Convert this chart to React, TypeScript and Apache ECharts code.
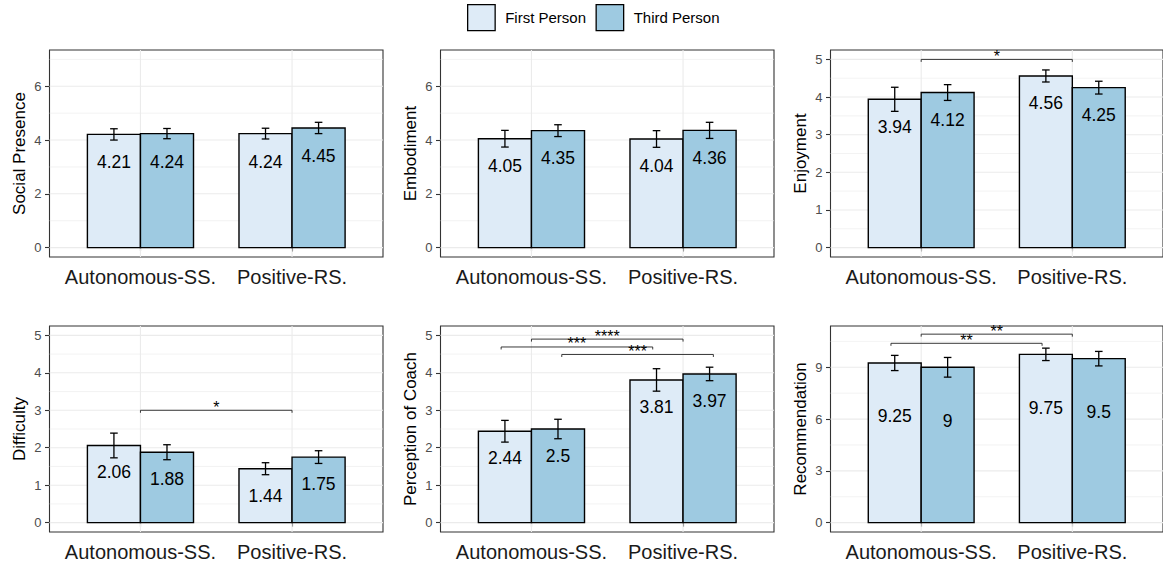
import React, { useEffect, useRef } from "react";
import * as echarts from "echarts";

const categories = ["Autonomous-SS.", "Positive-RS."];
const groupNames = ["First Person", "Third Person"];
const groupColors = ["#DEEBF7", "#9ECAE1"];

// Social Presence
const socialFirst = [4.21, 4.24];
const socialFirstErr = [0.21, 0.2];
const socialThird = [4.24, 4.45];
const socialThirdErr = [0.19, 0.21];
// Embodiment
const embodFirst = [4.05, 4.04];
const embodFirstErr = [0.31, 0.31];
const embodThird = [4.35, 4.36];
const embodThirdErr = [0.22, 0.3];
// Enjoyment
const enjoyFirst = [3.94, 4.56];
const enjoyFirstErr = [0.32, 0.16];
const enjoyThird = [4.12, 4.25];
const enjoyThirdErr = [0.21, 0.17];
// Difficulty
const diffFirst = [2.06, 1.44];
const diffFirstErr = [0.33, 0.16];
const diffThird = [1.88, 1.75];
const diffThirdErr = [0.2, 0.17];
// Perception of Coach
const percFirst = [2.44, 3.81];
const percFirstErr = [0.29, 0.3];
const percThird = [2.5, 3.97];
const percThirdErr = [0.26, 0.18];
// Recommendation
const recFirst = [9.25, 9.75];
const recFirstErr = [0.44, 0.36];
const recThird = [9, 9.5];
const recThirdErr = [0.57, 0.42];

// y tick labels (major) and minor grid values
const ticks7 = [0, 2, 4, 6];
const minor7 = [1, 3, 5, 7];
const ticks5 = [0, 1, 2, 3, 4, 5];
const minor5 = [0.5, 1.5, 2.5, 3.5, 4.5];
const ticks9 = [0, 3, 6, 9];
const minor9 = [1.5, 4.5, 7.5, 10.5];

// significance brackets: [xStart, xEnd, y]
const enjoyBrackets = [[1, 2, 5.0]];
const enjoyStars = ["*"];
const diffBrackets = [[1, 2, 3.0]];
const diffStars = ["*"];
const percBrackets = [
  [1, 2, 4.9],
  [0.8, 1.8, 4.69],
  [1.2, 2.2, 4.49],
];
const percStars = ["****", "***", "***"];
const recBrackets = [
  [1, 2, 10.92],
  [0.8, 1.8, 10.39],
];
const recStars = ["**", "**"];

const FONT = "'Liberation Sans', Arial, Helvetica, sans-serif";

type Panel = {
  title: string;
  first: number[];
  firstErr: number[];
  third: number[];
  thirdErr: number[];
  top: number; // data range upper (ggplot-like 5% expansion applied)
  ticks: number[];
  minor: number[];
  brackets: number[][];
  stars: string[];
  labelOffset: number;
};

const panels: Panel[] = [
  { title: "Social Presence", first: socialFirst, firstErr: socialFirstErr, third: socialThird, thirdErr: socialThirdErr, top: 7, ticks: ticks7, minor: minor7, brackets: [], stars: [], labelOffset: 28 },
  { title: "Embodiment", first: embodFirst, firstErr: embodFirstErr, third: embodThird, thirdErr: embodThirdErr, top: 7, ticks: ticks7, minor: minor7, brackets: [], stars: [], labelOffset: 27.5 },
  { title: "Enjoyment", first: enjoyFirst, firstErr: enjoyFirstErr, third: enjoyThird, thirdErr: enjoyThirdErr, top: 5, ticks: ticks5, minor: minor5, brackets: enjoyBrackets, stars: enjoyStars, labelOffset: 27.5 },
  { title: "Difficulty", first: diffFirst, firstErr: diffFirstErr, third: diffThird, thirdErr: diffThirdErr, top: 5, ticks: ticks5, minor: minor5, brackets: diffBrackets, stars: diffStars, labelOffset: 27 },
  { title: "Perception of Coach", first: percFirst, firstErr: percFirstErr, third: percThird, thirdErr: percThirdErr, top: 5, ticks: ticks5, minor: minor5, brackets: percBrackets, stars: percStars, labelOffset: 27 },
  { title: "Recommendation", first: recFirst, firstErr: recFirstErr, third: recThird, thirdErr: recThirdErr, top: 10.85, ticks: ticks9, minor: minor9, brackets: recBrackets, stars: recStars, labelOffset: 53.5 },
];

const gridLefts = [49.5, 440.5, 830.5];
const rowTops = [50, 326];
const rowHeights = [207, 206];
const gridWidth = 333.5;

function buildOption() {
  const grid: any[] = [];
  const xAxis: any[] = [];
  const yAxis: any[] = [];
  const series: any[] = [];

  panels.forEach((p, i) => {
    const row = Math.floor(i / 3);
    const col = i % 3;
    grid.push({
      left: gridLefts[col],
      top: rowTops[row],
      width: gridWidth,
      height: rowHeights[row],
      show: true,
      borderColor: "#333333",
      borderWidth: 1.1,
      backgroundColor: "transparent",
      containLabel: false,
    });
    xAxis.push({
      type: "value",
      gridIndex: i,
      min: 0.4,
      max: 2.6,
      splitLine: { show: false },
      axisLine: { show: false },
      axisTick: { show: true, customValues: [1, 2], length: 4, lineStyle: { color: "#333333", width: 1.1 } },
      axisLabel: {
        show: true,
        customValues: [1, 2],
        formatter: (v: number) => categories[Math.round(v) - 1] || "",
        fontSize: 20,
        color: "#1A1A1A",
        fontFamily: FONT,
        margin: 9.5,
      },
    });
    yAxis.push({
      type: "value",
      gridIndex: i,
      min: -0.05 * p.top,
      max: 1.05 * p.top,
      name: p.title,
      nameLocation: "middle",
      nameGap: 22,
      nameTextStyle: { fontSize: 17, color: "#000", fontFamily: FONT },
      splitLine: { show: false },
      axisLine: { show: false },
      axisTick: { show: true, customValues: p.ticks, length: 4.5, lineStyle: { color: "#333333", width: 1.1 } },
      axisLabel: {
        show: true,
        customValues: p.ticks,
        fontSize: 13,
        color: "#4D4D4D",
        fontFamily: FONT,
        margin: 8,
      },
    });

    // grid lines
    const gl: number[][] = [];
    p.minor.forEach((v) => gl.push([0, v, 0]));
    p.ticks.forEach((v) => gl.push([0, v, 1]));
    [1, 2].forEach((v) => gl.push([1, v, 1]));
    series.push({
      type: "custom",
      name: "grid" + i,
      xAxisIndex: i,
      yAxisIndex: i,
      silent: true,
      clip: false,
      z: 1,
      data: gl,
      renderItem: (params: any, api: any) => {
        const cs = params.coordSys;
        const kind = api.value(0);
        const v = api.value(1);
        const major = api.value(2);
        if (kind === 0) {
          const y = api.coord([1, v])[1];
          return {
            type: "line",
            shape: { x1: cs.x, y1: y, x2: cs.x + cs.width, y2: y },
            style: { stroke: "#EBEBEB", lineWidth: major ? 1.1 : 0.6 },
          };
        }
        const x = api.coord([v, 0])[0];
        return {
          type: "line",
          shape: { x1: x, y1: cs.y, x2: x, y2: cs.y + cs.height },
          style: { stroke: "#EBEBEB", lineWidth: 1.1 },
        };
      },
    });

    // bars
    const groups = [
      { m: p.first, e: p.firstErr, off: -0.175 },
      { m: p.third, e: p.thirdErr, off: 0.175 },
    ];
    groups.forEach((g, gi) => {
      series.push({
        type: "custom",
        name: groupNames[gi],
        xAxisIndex: i,
        yAxisIndex: i,
        clip: false,
        z: 2 + gi,
        itemStyle: { color: groupColors[gi] },
        data: g.m.map((m, j) => [j + 1, m, g.e[j]]),
        renderItem: (params: any, api: any) => {
          const x = api.value(0) + g.off;
          const m = api.value(1);
          const e = api.value(2);
          const tl = api.coord([x - 0.175, m]);
          const br = api.coord([x + 0.175, 0]);
          const cx = api.coord([x, m])[0];
          const yt = api.coord([x, m + e])[1];
          const yb = api.coord([x, m - e])[1];
          const cap = 3.8;
          const ls = { stroke: "#000", lineWidth: 1.3 };
          return {
            type: "group",
            children: [
              {
                type: "rect",
                shape: { x: tl[0], y: tl[1], width: br[0] - tl[0], height: br[1] - tl[1] },
                style: { fill: groupColors[gi], stroke: "#000", lineWidth: 1.4 },
              },
              { type: "line", shape: { x1: cx, y1: yt, x2: cx, y2: yb }, style: ls },
              { type: "line", shape: { x1: cx - cap, y1: yt, x2: cx + cap, y2: yt }, style: ls },
              { type: "line", shape: { x1: cx - cap, y1: yb, x2: cx + cap, y2: yb }, style: ls },
              {
                type: "text",
                x: cx,
                y: tl[1] + p.labelOffset,
                style: {
                  text: String(m),
                  fill: "#000",
                  fontSize: 17.5,
                  fontFamily: FONT,
                  align: "center",
                  verticalAlign: "middle",
                },
              },
            ],
          };
        },
      });
    });

    if (p.brackets.length) {
      series.push({
        type: "custom",
        name: "sig" + i,
        xAxisIndex: i,
        yAxisIndex: i,
        clip: false,
        silent: true,
        z: 5,
        data: p.brackets,
        renderItem: (params: any, api: any) => {
          const x1 = api.value(0);
          const x2 = api.value(1);
          const y = api.value(2);
          const p1 = api.coord([x1, y]);
          const p2 = api.coord([x2, y]);
          const tip = 2.5;
          return {
            type: "group",
            children: [
              {
                type: "polyline",
                shape: {
                  points: [
                    [p1[0], p1[1] + tip],
                    [p1[0], p1[1]],
                    [p2[0], p2[1]],
                    [p2[0], p2[1] + tip],
                  ],
                },
                style: { stroke: "#222", lineWidth: 0.9, fill: "none" },
              },
              {
                type: "text",
                x: (p1[0] + p2[0]) / 2,
                y: p1[1] - 3,
                style: {
                  text: p.stars[params.dataIndex],
                  fill: "#000",
                  fontSize: 16,
                  fontFamily: FONT,
                  align: "center",
                  verticalAlign: "middle",
                },
              },
            ],
          };
        },
      });
    }
  });

  return {
    animation: false,
    backgroundColor: "#fff",
    textStyle: { fontFamily: FONT },
    legend: {
      left: 467,
      top: 4,
      padding: 0,
      itemWidth: 27.5,
      itemHeight: 26,
      itemGap: 9.5,
      selectedMode: false,
      textStyle: { fontSize: 15, color: "#000", fontFamily: FONT, padding: [0, 0, 0, 5] },
      data: groupNames.map((n, gi) => ({
        name: n,
        icon: "rect",
        itemStyle: { color: groupColors[gi], borderColor: "#000", borderWidth: 1.3 },
      })),
    },
    grid,
    xAxis,
    yAxis,
    series,
  };
}

export default function App() {
  const ref = useRef<HTMLDivElement>(null);
  useEffect(() => {
    if (!ref.current) return;
    const chart = echarts.init(ref.current, undefined, { renderer: "svg" });
    chart.setOption(buildOption() as any);
    return () => chart.dispose();
  }, []);
  return (
    <div
      ref={ref}
      style={{ position: "fixed", left: 0, top: 0, width: 1163, height: 569, background: "#fff" }}
    />
  );
}
